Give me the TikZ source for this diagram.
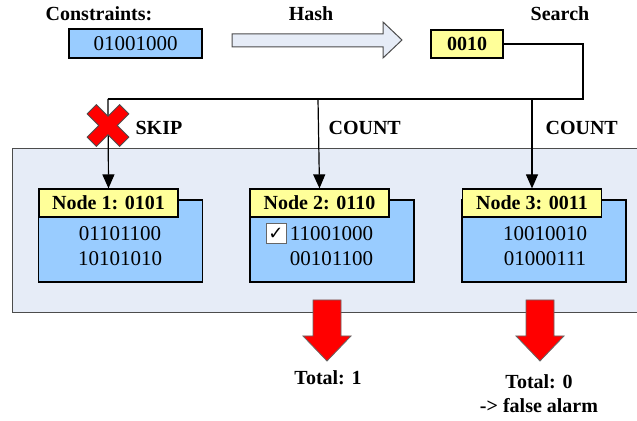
\documentclass[tikz,border=0pt]{standalone}
\usepackage{fontspec}
\setmainfont{Liberation Serif}
\newfontfamily\symfont{DejaVu Sans}
\usetikzlibrary{arrows.meta}

\definecolor{panelblue}{RGB}{230,236,247}
\definecolor{bodyblue}{RGB}{153,204,255}
\definecolor{headyellow}{RGB}{255,255,153}

\tikzset{
	body/.style={draw, fill=bodyblue, minimum width=82pt, minimum height=41pt, inner sep=0pt},
	head/.style={draw, fill=headyellow, minimum width=69.5pt, minimum height=14pt, inner sep=0pt, font=\bfseries},
	bits/.style={align=center, inner sep=0pt},
	tag/.style={font=\bfseries, inner sep=0pt},
	flow/.style={-{Triangle[length=7pt,width=6pt]}},
	redarrow/.style={draw=black!60, fill=red, line width=0.4pt},
}

\begin{document}
\begin{tikzpicture}[x=0.5pt, y=-0.5pt, line width=0.6pt, font=\fontsize{10.5}{12.5}\selectfont]

	\useasboundingbox (0,0) rectangle (637,421);

	\node[tag] (tcons) at (99,14) {Constraints:};
	\node[tag] (thash) at (311,14) {Hash};
	\node[tag] (tsearch) at (560,14) {Search};

	\node[draw, fill=bodyblue, minimum width=66.5pt, minimum height=14.5pt, inner sep=0pt] (cons) at (135.5,43.5) {01001000};
	\node[draw, fill=headyellow, minimum width=36pt, minimum height=14pt, inner sep=0pt, font=\bfseries] (search) at (467,44) {0010};

	\draw[draw=black!70, fill=panelblue, line width=0.5pt] (232,34) -- (383,34) -- (383,22) -- (402,40) -- (383,58) -- (383,47) -- (232,47) -- cycle;

	\node[draw=black!70, fill=panelblue, line width=0.5pt, minimum width=312.5pt, minimum height=82pt, inner sep=0pt] (panel) at (324.5,231) {};

	\node[body] (b1) at (120.5,241) {};
	\node[body] (b2) at (332,241) {};
	\node[body] (b3) at (544,241) {};
	\node[head] (h1) at (108.5,203) {Node 1: 0101};
	\node[head] (h2) at (319.5,203) {Node 2: 0110};
	\node[head] (h3) at (532,203) {Node 3: 0011};

	\node[bits] (d1) at (120,246.5) {01101100\\10101010};
	\node[bits] (d2) at (331.5,246.5) {11001000\\00101100};
	\node[bits] (d3) at (545,246.5) {10010010\\01000111};
	\node[draw=black!60, fill=white, minimum size=10pt, inner sep=0pt, line width=0.5pt, font=\symfont\fontsize{9}{9}\selectfont] (tick) at (276,234) {✓};

	\coordinate (r) at (583,99);
	\coordinate (j1) at (108,99);
	\coordinate (j2) at (318,99);
	\coordinate (j3) at (532,99);

	\draw (search.east) -| (r) -- (j1);
	\draw[flow] (j1) -- (h1.north);
	\draw[flow] (j2) -- (h2.north);
	\draw[flow] (j3) -- (h3.north);

	\draw[draw=black!70, fill=red, line width=0.4pt, shift={(108,125.5)}, rotate=45]
		(-6.5,-23) -- (6.5,-23) -- (6.5,-6.5) -- (23,-6.5) -- (23,6.5) -- (6.5,6.5) -- (6.5,23)
		-- (-6.5,23) -- (-6.5,6.5) -- (-23,6.5) -- (-23,-6.5) -- (-6.5,-6.5) -- cycle;

	\node[tag, anchor=west] (skip) at (135,128) {SKIP};
	\node[tag, anchor=west] (count2) at (328,128) {COUNT};
	\node[tag, anchor=west] (count3) at (545,128) {COUNT};

	\draw[redarrow, shift={(327,300)}] (-14,0) -- (14,0) -- (14,36) -- (24,36) -- (0,61) -- (-24,36) -- (-14,36) -- cycle;
	\draw[redarrow, shift={(540,300)}] (-14,0) -- (14,0) -- (14,36) -- (24,36) -- (0,61) -- (-24,36) -- (-14,36) -- cycle;

	\node[tag] (total2) at (328,378) {Total: 1};
	\node[tag, align=center] (total3) at (539,393.5) {Total: 0\\-> false alarm};

\end{tikzpicture}
\end{document}
